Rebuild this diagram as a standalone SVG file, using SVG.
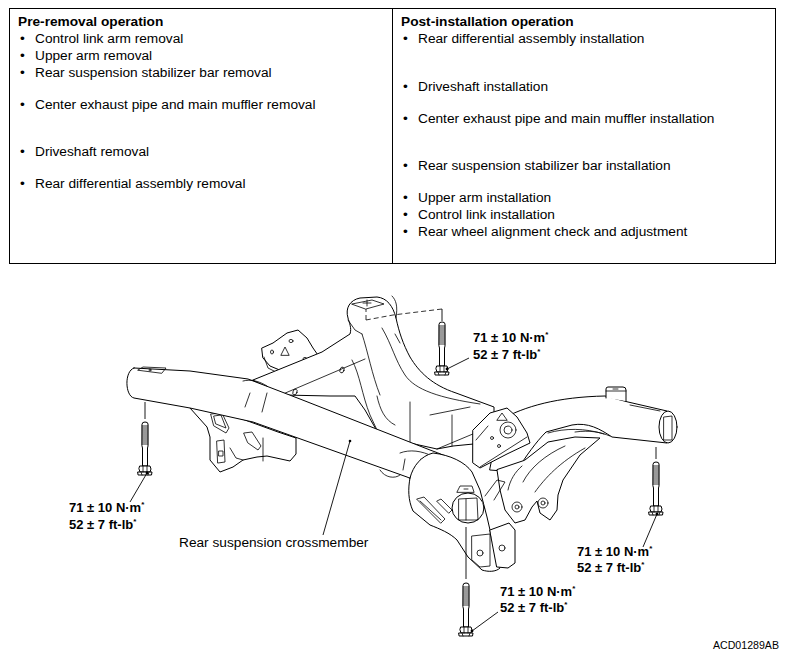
<svg xmlns="http://www.w3.org/2000/svg" xmlns:xlink="http://www.w3.org/1999/xlink" width="789" height="657" viewBox="0 0 789 657">
<style>
.t{font-family:"Liberation Sans",Arial,sans-serif;font-size:13.7px;fill:#000}
.b{font-weight:bold}
.q{font-family:"Liberation Sans",Arial,sans-serif;font-size:13px;font-weight:bold;fill:#000}
.s{font-size:8px}
.o{fill:#fff;stroke:#000;stroke-width:1;stroke-linejoin:round;stroke-linecap:round}
.l{fill:none;stroke:#000;stroke-width:0.8;stroke-linecap:round;stroke-linejoin:round}
.d{fill:none;stroke:#000;stroke-width:0.8;stroke-dasharray:5 3}
.ld{fill:none;stroke:#000;stroke-width:0.9}
</style>
<defs>
<g id="bolt">
<path class="o" d="M-3,2 Q-3,0 0,0 Q3,0 3,2 L3,24 L2.5,26 L2.5,44 L-2.5,44 L-2.5,26 L-3,24 Z"/>
<path class="l" d="M-3,4H3M-3,6H3M-3,8H3M-3,10H3M-3,12H3M-3,14H3M-3,16H3M-3,18H3M-3,20H3M-3,22H3"/>
<path class="o" d="M-5,44 L5,44 L6,47 L5,50 L-5,50 L-6,47 Z"/>
<path class="o" d="M-7,50 L7,50 L6.5,53 L-6.5,53 Z"/>
<path class="l" d="M-2,44V50M2,44V50M-4,50L-3,53M4,50L3,53"/>
</g>
</defs>
<rect width="789" height="657" fill="#fff"/>

<g id="table">
<rect x="9.5" y="8.5" width="766" height="255" fill="none" stroke="#000" stroke-width="1"/>
<line x1="392.5" y1="8.5" x2="392.5" y2="263.5" stroke="#000" stroke-width="1"/>
<g id="pre">
<text class="t b" x="18" y="26">Pre-removal operation</text>
<text class="t" x="20" y="43">•</text><text class="t" x="35" y="43">Control link arm removal</text>
<text class="t" x="20" y="60">•</text><text class="t" x="35" y="60">Upper arm removal</text>
<text class="t" x="20" y="77">•</text><text class="t" x="35" y="77">Rear suspension stabilizer bar removal</text>
<text class="t" x="20" y="109">•</text><text class="t" x="35" y="109">Center exhaust pipe and main muffler removal</text>
<text class="t" x="20" y="156">•</text><text class="t" x="35" y="156">Driveshaft removal</text>
<text class="t" x="20" y="188">•</text><text class="t" x="35" y="188">Rear differential assembly removal</text>
</g>
<g id="post">
<text class="t b" x="401" y="26">Post-installation operation</text>
<text class="t" x="403" y="43">•</text><text class="t" x="418" y="43">Rear differential assembly installation</text>
<text class="t" x="403" y="91">•</text><text class="t" x="418" y="91">Driveshaft installation</text>
<text class="t" x="403" y="123">•</text><text class="t" x="418" y="123">Center exhaust pipe and main muffler installation</text>
<text class="t" x="403" y="170">•</text><text class="t" x="418" y="170">Rear suspension stabilizer bar installation</text>
<text class="t" x="403" y="202">•</text><text class="t" x="418" y="202">Upper arm installation</text>
<text class="t" x="403" y="219">•</text><text class="t" x="418" y="219">Control link installation</text>
<text class="t" x="403" y="236">•</text><text class="t" x="418" y="236">Rear wheel alignment check and adjustment</text>
</g>
</g>

<g id="crossmember">
<!-- right arm (back) -->
<path class="o" d="M500,420 C525,406 558,397 605,396 L628,402 L667,411 L667,443 L612,437 C600,429 588,422 572,425 L546,432 C536,442 526,456 516,472 L490,470 Z"/>
<path class="o" d="M606,398 L606,389 Q606,387 608,387 L623,387 Q626,387 626,390 L626,401"/>
<path class="l" d="M606,391 L626,391 M613,389 L618,389"/>
<ellipse class="o" cx="668" cy="427" rx="9" ry="16"/>
<path class="l" d="M664,417 L672,416 L672,440 L664,440 Z"/>
<path class="l" d="M630,405 L660,411 M548,433 C565,428 585,428 604,434 M575,432 C590,430 600,432 610,436"/>
<!-- top-left plate -->
<path class="o" d="M262,348 L273,343 L287,333 L298,330 L307,338 L313,348 L320,358 L310,363 L297,366 L282,371 L270,366 L263,358 Z"/>
<path class="l" d="M264,357 L268,368 L280,374"/>
<ellipse class="l" cx="291" cy="341" rx="2" ry="1.6"/>
<ellipse class="l" cx="305" cy="359" rx="2" ry="1.6"/>
<ellipse class="l" cx="272" cy="352" rx="1.5" ry="2"/>
<path class="l" d="M281,355 L285,347 L289,355 Z"/>
<!-- tower and rear member -->
<path class="o" d="M253,380 L322,352 L350,334 C352,328 349,322 348,318 C345,308 350,300 360,298 L377,297 C387,298 393,306 396,318 C399,332 403,344 410,357 C419,372 432,385 456,393 L494,407 L494,442 L453,446 L437,449 L410,443 L377,431 L365,410 L355,396 L330,396 L283,395 Z"/>
<path class="l" d="M283,394 L365,359"/>
<path class="l" d="M352,304 L372,300 L384,304 L366,309 Z"/>
<path class="d" d="M442,309 L393,315 L366,320 M366,320 L366,309"/>
<path class="l" d="M363,303 L371,303 M367,300 L367,306"/>
<path class="l" d="M348,320 L355,330 L362,334 M362,334 C368,352 372,375 380,395 M382,328 C392,345 395,360 405,375 C415,390 440,398 480,404"/>
<path class="l" d="M352,360 C360,375 362,395 370,415 L377,430 M377,396 C380,410 385,420 395,425"/>
<path class="l" d="M410,402 L410,442 M452,415 L452,446 M437,449 L480,431 M430,415 L470,407"/>
<ellipse class="l" cx="342" cy="370" rx="2" ry="3" transform="rotate(20 342 370)"/>
<ellipse class="l" cx="295" cy="392" rx="2" ry="3" transform="rotate(20 295 392)"/>
<path class="l" d="M396,318 C398,306 396,300 392,296 M395,334 L400,343"/>
<!-- diff bracket -->
<path class="o" d="M473,430 L490,413 L507,408 L517,417 L527,433 L530,443 L507,454 L480,468 L473,463 Z"/>
<circle class="l" cx="508" cy="430" r="8"/>
<circle class="l" cx="508" cy="430" r="4"/>
<path class="l" d="M480,467 L527,437 M497,420 L502,413 L507,420 Z M476,440 L488,426"/>
<circle class="l" cx="492" cy="438" r="1.5"/>
<circle class="l" cx="499" cy="446" r="1.5"/>
<!-- lower right ears -->
<path class="o" d="M497,470 L500,490 L505,510 L515,523 L525,520 L532,507 L537,501 L540,513 L550,520 L557,510 L558,495 L563,480 L580,455 L600,438 L575,437 L548,442 L525,460 Z"/>
<circle class="l" cx="517" cy="507" r="5"/>
<circle class="l" cx="517" cy="507" r="2"/>
<circle class="l" cx="543" cy="503" r="5"/>
<circle class="l" cx="543" cy="503" r="2"/>
<path class="l" d="M523,482 C530,468 545,455 565,446 M535,492 C545,478 560,462 585,448 M508,490 C510,480 515,472 522,466"/>
<!-- left bracket -->
<path class="o" d="M190,408 L207,427 L210,437 L210,460 L220,472 L233,467 L243,460 L257,457 L267,456 L290,461 L296,454 L296,438 L278,432 L245,420 L200,406 Z"/>
<path class="l" d="M211,414 L222,413 L229,428 L226,433 L214,426 Z M214,416 L221,415 L226,428 L216,424 Z"/>
<path class="l" d="M244,433 L252,432 L261,446 L258,450 L248,443 Z"/>
<path class="l" d="M217,441 L224,440 L225,462 L218,463 Z"/>
<rect class="l" x="219" y="451" width="4" height="5"/>
<path class="l" d="M263,438 L263,461 M230,448 L236,458 L243,460 M186,401 L192,404"/>
<!-- front tube -->
<path class="o" d="M134,368 L190,371 L248,379 L300,399 L430,450 C450,457 465,465 472,475 L478,490 L440,491 L407,477 L253,422 L190,408 L134,398 C125,396 124,371 134,368 Z"/>
<path class="l" d="M138,370 L143,367 L166,368 L162,373 Z"/>
<circle class="l" cx="150" cy="370" r="1"/>
<path class="l" d="M243,381 C251,379 259,381 267,386 M250,393 L245,407 M267,393 L262,412"/>
<path class="l" d="M400,453 C410,449 422,451 432,456 M405,459 L403,470 M421,459 L416,476"/>
<path class="l" d="M380,470 C385,478 395,479 400,475"/>
<circle cx="350" cy="441" r="1.3" fill="#000"/>
<!-- front right bracket -->
<path class="o" d="M410,478 C413,466 421,456 433,453 C450,455 465,462 472,472 L480,490 L487,517 L490,530 L500,568 C496,572 488,572 482,570 L468,557 L457,540 C450,533 440,529 430,525 L413,511 C408,500 408,489 410,478 Z"/>
<path class="o" d="M490,530 L509,523 L515,530 L515,563 L508,568 L497,567 Z"/>
<ellipse class="o" cx="468" cy="508" rx="16" ry="15"/>
<path class="l" d="M459,499 L477,498 L478,520 L459,520 Z M466,499 L466,520"/>
<path class="l" d="M457,492 L460,486 L472,486 L474,492 Z M464,489 L468,489"/>
<path class="l" d="M417,499 L424,497 L445,519 L441,523 Z M420,501 L441,520"/>
<path class="l" d="M437,501 L441,499 L452,510 L449,513 Z"/>
<path class="l" d="M472,536 L490,534 L490,566 L480,567 L472,560 Z"/>
<circle class="l" cx="480" cy="553" r="3"/>
<circle class="l" cx="502" cy="548" r="3"/>
<path class="l" d="M485,496 L497,480 L505,482 L494,500"/>
</g>

<g id="bolts">
<use xlink:href="#bolt" href="#bolt" x="442" y="322"/>
<use xlink:href="#bolt" href="#bolt" x="145" y="422"/>
<use xlink:href="#bolt" href="#bolt" x="656" y="462"/>
<use xlink:href="#bolt" href="#bolt" x="466" y="583"/>
</g>

<g id="connectors">
<path class="ld" d="M442,309 L442,321"/>
<path class="ld" d="M145,402 L145,419"/>
<path class="ld" d="M656,447 L656,459"/>
<path class="ld" d="M466,527 L466,579"/>
<path class="ld" d="M447,369 L469,358"/>
<path class="ld" d="M147,473 L130,502"/>
<path class="ld" d="M350,441 L323,535"/>
<path class="ld" d="M472,631 L498,612"/>
<path class="ld" d="M657,514 L643,547"/>
<circle cx="447" cy="369" r="1.4" fill="#000"/>
<circle cx="147" cy="473" r="1.4" fill="#000"/>
<circle cx="472" cy="631" r="1.4" fill="#000"/>
<circle cx="657" cy="514" r="1.4" fill="#000"/>
</g>

<g id="labels">
<text class="q" x="473" y="342">71 ± 10 N·m<tspan class="s" dy="-5">*</tspan></text>
<text class="q" x="473" y="359">52 ± 7 ft-lb<tspan class="s" dy="-5">*</tspan></text>
<text class="q" x="69" y="512">71 ± 10 N·m<tspan class="s" dy="-5">*</tspan></text>
<text class="q" x="69" y="529">52 ± 7 ft-lb<tspan class="s" dy="-5">*</tspan></text>
<text class="q" x="577" y="556">71 ± 10 N·m<tspan class="s" dy="-5">*</tspan></text>
<text class="q" x="577" y="572">52 ± 7 ft-lb<tspan class="s" dy="-5">*</tspan></text>
<text class="q" x="500" y="596">71 ± 10 N·m<tspan class="s" dy="-5">*</tspan></text>
<text class="q" x="500" y="612">52 ± 7 ft-lb<tspan class="s" dy="-5">*</tspan></text>
<text class="t" x="179" y="547">Rear suspension crossmember</text>
<text class="t" x="713" y="649" style="font-size:10.6px">ACD01289AB</text>
</g>
</svg>
